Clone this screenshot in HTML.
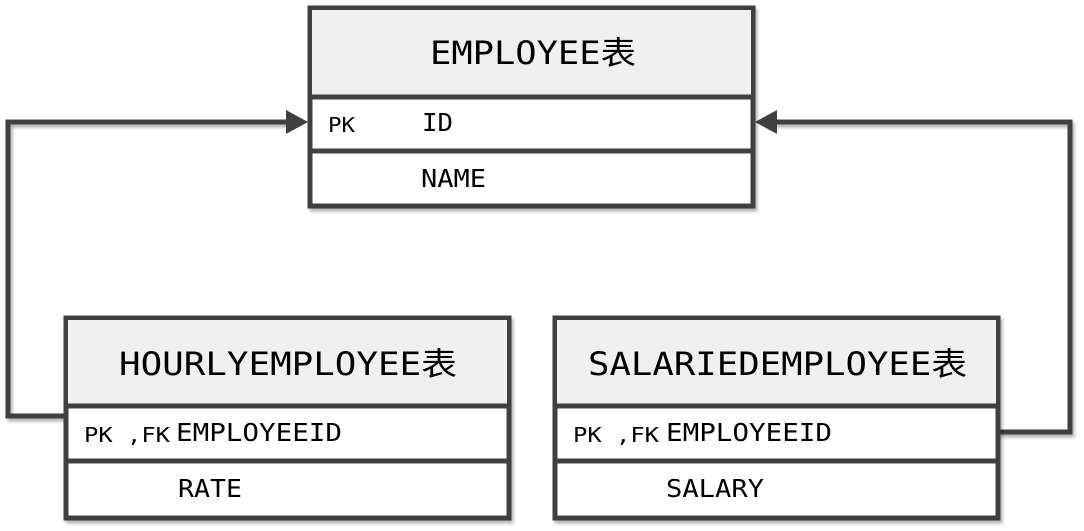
<!DOCTYPE html>
<html><head><meta charset="utf-8"><style>
html,body{margin:0;padding:0;background:#fff;}
svg{display:block;}
text{font-family:"DejaVu Sans Mono","Noto Sans CJK SC",monospace;fill:#000;}
</style></head><body>
<svg width="1084" height="531" viewBox="0 0 1084 531" xmlns="http://www.w3.org/2000/svg">
<defs><filter id="sh" x="-5%" y="-5%" width="115%" height="115%"><feDropShadow dx="2" dy="3" stdDeviation="1.5" flood-color="#000" flood-opacity="0.3"/></filter></defs>
<g fill="none" stroke="#404040" stroke-width="5" filter="url(#sh)">
<polyline points="66,416 8,416 8,122 290,122"/>
<polyline points="998,432 1070,432 1070,122 775,122"/>
</g>
<polygon points="308,122 286,110 286,134" fill="#404040"/>
<polygon points="755,122 777,110 777,134" fill="#404040"/>

<g filter="url(#sh)">
<rect x="310" y="8" width="443" height="198" fill="#fff" stroke="#404040" stroke-width="5"/>
</g>
<rect x="312" y="10" width="439" height="86" fill="#f0f0f0"/>
<line x1="310" y1="97" x2="753" y2="97" stroke="#404040" stroke-width="5"/>
<line x1="310" y1="151" x2="753" y2="151" stroke="#404040" stroke-width="5"/>
<text x="430" y="64" font-size="32" textLength="206" lengthAdjust="spacingAndGlyphs">EMPLOYEE表</text>
<text x="328" y="132" font-size="20" textLength="27" lengthAdjust="spacingAndGlyphs">PK</text>
<text x="422" y="131" font-size="25" textLength="31" lengthAdjust="spacingAndGlyphs">ID</text>
<text x="421" y="187" font-size="25" textLength="65" lengthAdjust="spacingAndGlyphs">NAME</text>

<g filter="url(#sh)">
<rect x="66" y="318" width="443" height="200" fill="#fff" stroke="#404040" stroke-width="5"/>
</g>
<rect x="68" y="320" width="439" height="85" fill="#f0f0f0"/>
<line x1="66" y1="406" x2="509" y2="406" stroke="#404040" stroke-width="5"/>
<line x1="66" y1="461" x2="509" y2="461" stroke="#404040" stroke-width="5"/>
<text x="119" y="375" font-size="32" textLength="338" lengthAdjust="spacingAndGlyphs">HOURLYEMPLOYEE表</text>
<text x="84" y="442" font-size="20" textLength="86" lengthAdjust="spacingAndGlyphs">PK ,FK</text>
<text x="176" y="441" font-size="25" textLength="166" lengthAdjust="spacingAndGlyphs">EMPLOYEEID</text>
<text x="178" y="497" font-size="25" textLength="64" lengthAdjust="spacingAndGlyphs">RATE</text>

<g filter="url(#sh)">
<rect x="555" y="318" width="443" height="200" fill="#fff" stroke="#404040" stroke-width="5"/>
</g>
<rect x="557" y="320" width="439" height="85" fill="#f0f0f0"/>
<line x1="555" y1="406" x2="998" y2="406" stroke="#404040" stroke-width="5"/>
<line x1="555" y1="461" x2="998" y2="461" stroke="#404040" stroke-width="5"/>
<text x="588" y="375" font-size="32" textLength="379" lengthAdjust="spacingAndGlyphs">SALARIEDEMPLOYEE表</text>
<text x="573" y="442" font-size="20" textLength="86" lengthAdjust="spacingAndGlyphs">PK ,FK</text>
<text x="666" y="441" font-size="25" textLength="166" lengthAdjust="spacingAndGlyphs">EMPLOYEEID</text>
<text x="666" y="497" font-size="25" textLength="98" lengthAdjust="spacingAndGlyphs">SALARY</text>
</svg>
</body></html>
